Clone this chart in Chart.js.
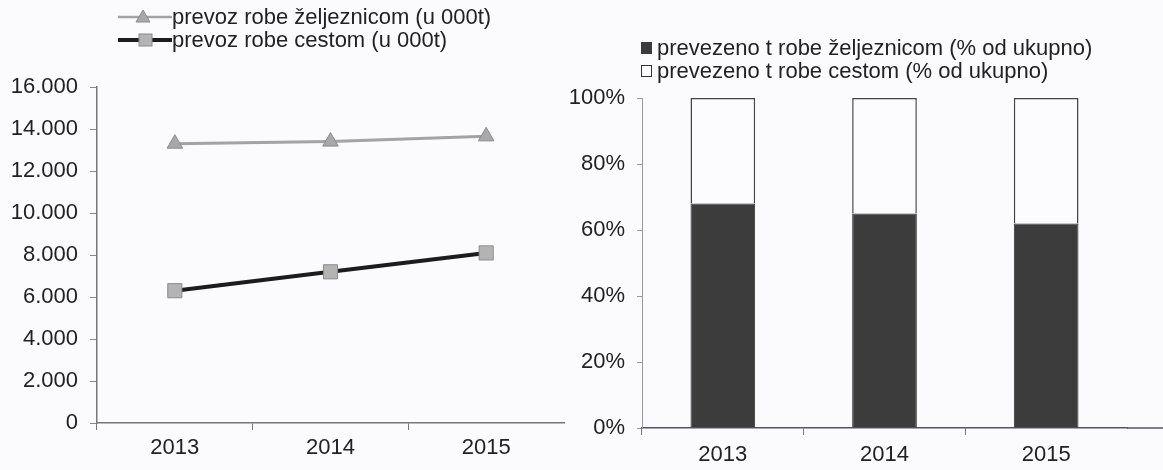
<!DOCTYPE html>
<html>
<head>
<meta charset="utf-8">
<script src="https://cdn.jsdelivr.net/npm/chart.js@4/dist/chart.umd.min.js"></script>
<style>
    body { margin: 0; background: #fbfafd; font-family: "Liberation Sans", Arial, sans-serif; color: #222; }
    #wrap { position: relative; width: 1163px; height: 470px; overflow: hidden; }
    #boxLinija { position: absolute; left: 0; top: 0; width: 575px; height: 470px; }
    #boxStupci { position: absolute; left: 555px; top: 0; width: 608px; height: 470px; }
    .legenda { position: absolute; font-size: 22px; white-space: nowrap; }
    .stavka { display: flex; align-items: center; height: 23px; }
    .kvadrat { display: inline-block; width: 11px; height: 12px; margin-right: 5px; box-sizing: border-box; }
</style>
</head>
<body>
<div id="wrap">
    <div id="boxLinija"><canvas id="GraficoLinija"></canvas></div>
    <div id="boxStupci"><canvas id="GraficoStupci"></canvas></div>

    <!-- legenda lijevog grafikona -->
    <div class="legenda" style="left:118px; top:5px;">
        <div class="stavka">
            <svg width="54" height="20"><line x1="0" y1="10" x2="54" y2="10" stroke="#a3a3a3" stroke-width="2.5"/><polygon points="25,3 32,15 18,15" fill="#a8a8a8" stroke="#8c8c8c"/></svg>
            <span>prevoz robe željeznicom (u 000t)</span>
        </div>
        <div class="stavka">
            <svg width="54" height="20"><line x1="0" y1="10" x2="54" y2="10" stroke="#1c1c1c" stroke-width="4"/><rect x="21" y="4" width="13" height="12" fill="#b3b3b3" stroke="#8c8c8c"/></svg>
            <span>prevoz robe cestom (u 000t)</span>
        </div>
    </div>

    <!-- legenda desnog grafikona -->
    <div class="legenda" style="left:641px; top:36px;">
        <div class="stavka"><span class="kvadrat" style="background:#3a3a3a;"></span><span>prevezeno t robe željeznicom (% od ukupno)</span></div>
        <div class="stavka"><span class="kvadrat" style="background:#fff; border:1px solid #333;"></span><span>prevezeno t robe cestom (% od ukupno)</span></div>
    </div>
</div>

<script>
// Podaci
const godine = ['2013', '2014', '2015'];
const prevozZeljeznicom = [13300, 13400, 13650];
const prevozCestom = [6300, 7200, 8100];
const udioZeljeznica = [68, 65, 62];
const udioCesta = [32, 35, 38];
const tickoviTona = [0, 2000, 4000, 6000, 8000, 10000, 12000, 14000, 16000];
const tickoviPosto = [0, 20, 40, 60, 80, 100];

const FONT = { family: '"Liberation Sans", Arial, sans-serif', size: 22 };

// format 16000 -> 16.000
function formatTone(v) {
    return String(v).replace(/\B(?=(\d{3})+(?!\d))/g, '.');
}

// bez crtice na desnom kraju osi x
function bojaCrtice(boja) {
    return ctx => (typeof ctx.index === 'number' && ctx.index < godine.length) ? boja : 'rgba(0,0,0,0)';
}

// produži os x do desnog ruba platna
const produziOsX = {
    id: 'produziOsX',
    afterDraw(chart) {
        const { ctx, chartArea } = chart;
        ctx.save();
        ctx.strokeStyle = '#556';
        ctx.lineWidth = 1.5;
        ctx.beginPath();
        ctx.moveTo(chartArea.right, chartArea.bottom);
        ctx.lineTo(chart.width, chartArea.bottom);
        ctx.stroke();
        ctx.restore();
    }
};

// Grafikon linija (lijevo)
new Chart(document.getElementById('GraficoLinija').getContext('2d'), {
    type: 'line',
    data: {
        labels: godine,
        datasets: [
            {
                label: 'prevoz robe željeznicom (u 000t)',
                data: prevozZeljeznicom,
                borderColor: '#a3a3a3',
                borderWidth: 3,
                pointStyle: 'triangle',
                pointRadius: 9,
                pointBackgroundColor: '#a8a8a8',
                pointBorderColor: '#8c8c8c',
                pointBorderWidth: 1,
                tension: 0
            },
            {
                label: 'prevoz robe cestom (u 000t)',
                data: prevozCestom,
                borderColor: '#1c1c1c',
                borderWidth: 4,
                pointStyle: 'rect',
                pointRadius: 10,
                pointBackgroundColor: '#b3b3b3',
                pointBorderColor: '#8c8c8c',
                pointBorderWidth: 1,
                tension: 0
            }
        ]
    },
    options: {
        responsive: true,
        maintainAspectRatio: false,
        animation: false,
        layout: { padding: { top: 87, right: 7, left: 0, bottom: 0 } },
        plugins: { legend: { display: false }, tooltip: { enabled: false } },
        scales: {
            x: {
                offset: true,
                grid: { offset: true, drawOnChartArea: false, tickLength: 7, color: bojaCrtice('#777') },
                border: { color: '#777', width: 1.5 },
                ticks: { color: '#222', font: FONT, padding: 5 },
                afterFit: s => { s.height = 47; }
            },
            y: {
                min: 0,
                max: 16000,
                afterBuildTicks: s => { s.ticks = tickoviTona.map(v => ({ value: v })); },
                grid: { drawOnChartArea: false, tickLength: 7, color: '#888' },
                border: { color: '#777', width: 1.5 },
                ticks: { color: '#222', font: FONT, padding: 12, callback: v => formatTone(v) },
                afterFit: s => { s.width = 97; }
            }
        }
    }
});

// Grafikon stupaca (desno)
new Chart(document.getElementById('GraficoStupci').getContext('2d'), {
    type: 'bar',
    data: {
        labels: godine,
        datasets: [
            {
                label: 'prevezeno t robe željeznicom (% od ukupno)',
                data: udioZeljeznica,
                backgroundColor: '#3c3c3c',
                borderColor: '#333',
                borderWidth: 1
            },
            {
                label: 'prevezeno t robe cestom (% od ukupno)',
                data: udioCesta,
                backgroundColor: '#fcfcfe',
                borderColor: '#444',
                borderWidth: 1.5
            }
        ]
    },
    options: {
        responsive: true,
        maintainAspectRatio: false,
        animation: false,
        layout: { padding: { top: 98, right: 36, left: 0, bottom: 0 } },
        datasets: { bar: { categoryPercentage: 1, barPercentage: 0.4 } },
        plugins: { legend: { display: false }, tooltip: { enabled: false } },
        scales: {
            x: {
                stacked: true,
                grid: { offset: true, drawOnChartArea: false, tickLength: 7, color: bojaCrtice('#777') },
                border: { color: '#556', width: 1.5 },
                ticks: { color: '#222', font: FONT, padding: 7 },
                afterFit: s => { s.height = 42; }
            },
            y: {
                stacked: true,
                min: 0,
                max: 100,
                afterBuildTicks: s => { s.ticks = tickoviPosto.map(v => ({ value: v })); },
                grid: { drawOnChartArea: false, tickLength: 5, color: '#999' },
                border: { color: '#999', width: 1, dash: [2, 2] },
                ticks: { color: '#222', font: FONT, padding: 12, callback: v => v + '%' },
                afterFit: s => { s.width = 87; }
            }
        }
    },
    plugins: [produziOsX]
});
</script>
</body>
</html>
